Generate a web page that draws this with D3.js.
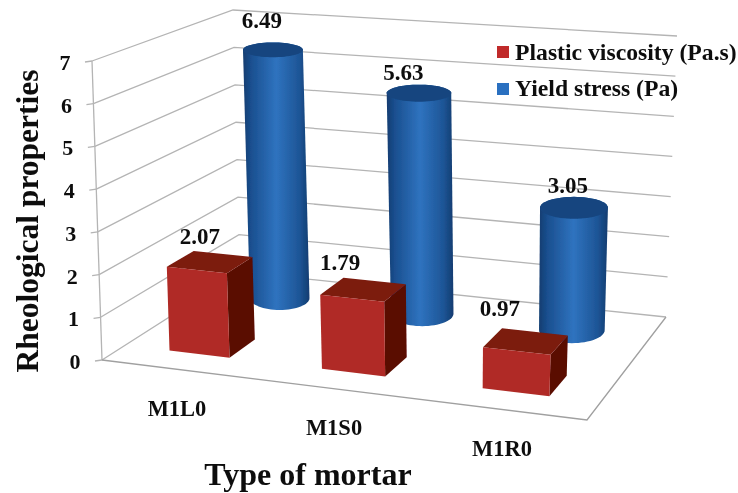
<!DOCTYPE html>
<html><head><meta charset="utf-8">
<script src="https://cdn.jsdelivr.net/npm/d3@7/dist/d3.min.js"></script>
<style>html,body{margin:0;padding:0;background:#fff}svg{display:block}text{font-family:"Liberation Serif",serif;font-weight:bold;fill:#111}</style>
</head><body><svg id="c" width="738" height="493"></svg>
<script>
const categories = ["M1L0","M1S0","M1R0"];
const seriesNames = ["Plastic viscosity (Pa.s)","Yield stress (Pa)"];
const plasticViscosity = [2.07,1.79,0.97];
const yieldStress = [6.49,5.63,3.05];
const tickValues = [0,1,2,3,4,5,6,7];

// chart frame (perspective box)
const floorQuad=[[102,360],[587,420],[666,317],[240,272]];
const topQuad=[[92,61],[601,100],[677,36],[233,10]];
function homography(q){
  const [[x0,y0],[x1,y1],[x2,y2],[x3,y3]]=q;
  const dx1=x1-x2,dx2=x3-x2,sx=x0-x1+x2-x3,dy1=y1-y2,dy2=y3-y2,sy=y0-y1+y2-y3;
  const den=dx1*dy2-dx2*dy1,g=(sx*dy2-dx2*sy)/den,h=(dx1*sy-sx*dy1)/den;
  const a=x1-x0+g*x1,b=x3-x0+h*x3,d=y1-y0+g*y1,e=y3-y0+h*y3;
  return (u,v)=>{const k=g*u+h*v+1;return [(a*u+b*v+x0)/k,(d*u+e*v+y0)/k];};
}
const hF=homography(floorQuad),hT=homography(topQuad);
const P=(u,v,w)=>{const f=hF(u,v),t=hT(u,v);return [f[0]+(t[0]-f[0])*w,f[1]+(t[1]-f[1])*w];};
const yS=d3.scaleLinear().domain([0,7]).range([0,1]);
const xS=d3.scaleBand().domain(categories).range([0,1]).paddingInner(0.6).paddingOuter(0.3);
const zS=d3.scaleBand().domain(seriesNames).range([0,1]).paddingInner(0.56).paddingOuter(0.28);
const line=d3.line();
const poly=pts=>line(pts)+"Z";

const svg=d3.select("#c");
const defs=svg.append("defs");
const g=defs.append("linearGradient").attr("id","cyl").attr("x1",0).attr("x2",1).attr("y1",0).attr("y2",0);
[[0,"#123c70"],[0.12,"#1a4f8f"],[0.5,"#2f73bf"],[0.85,"#1d5596"],[1,"#123c70"]].forEach(s=>g.append("stop").attr("offset",s[0]).attr("stop-color",s[1]));
defs.append("filter").attr("id","soft").append("feGaussianBlur").attr("stdDeviation",0.45);
const root=svg.append("g").attr("filter","url(#soft)");

// grid
const gridG=root.append("g").attr("fill","none").attr("stroke","#b4b4b4").attr("stroke-width",1.3);
tickValues.forEach(t=>{
  const w=yS(t);
  gridG.append("path").attr("d",line([P(0,0,w),P(0,1,w),P(1,1,w)]));
  const a=P(0,0,w);
  gridG.append("path").attr("d",line([[a[0]-7,a[1]+1],a]));
});
gridG.append("path").attr("d",line([P(0,0,0),P(0,0,1)]));
gridG.append("path").attr("stroke","#a0a0a0").attr("d",line([P(0,0,0),P(1,0,0),P(1,1,0)]));

// cylinders: level ellipses at the projected centre of each end
const ellipsePts=(cu,cv,ru,rv,w)=>{
  const c=P(cu,cv,w),rx=Math.abs(P(cu+ru,cv,w)[0]-P(cu-ru,cv,w)[0])/2*1.07;
  const ry=Math.abs(P(cu,cv+rv,w)[1]-P(cu,cv-rv,w)[1])/2*1.3;
  return d3.range(64).map(i=>{const t=i/64*2*Math.PI;return [c[0]+rx*Math.cos(t),c[1]+ry*Math.sin(t)];});
};
categories.forEach((c,i)=>{
  const ru=xS.bandwidth()/2,rv=zS.bandwidth()/2,cu=xS(c)+ru,cv=zS(seriesNames[1])+rv+0.015,w=yS(yieldStress[i])*0.98;
  const bot=ellipsePts(cu,cv,ru,rv,0),top=ellipsePts(cu,cv,ru,rv,w);
  root.append("path").attr("d",poly(d3.polygonHull(bot.concat(top)))).attr("fill","url(#cyl)");
  root.append("path").attr("d",poly(top)).attr("fill","#14457f");
});
// boxes
categories.forEach((c,i)=>{
  const u0=xS(c),u1=u0+xS.bandwidth(),v0=zS(seriesNames[0])+0.01,v1=v0+zS.bandwidth()*0.85,w=yS(plasticViscosity[i])*0.96;
  root.append("path").attr("d",poly([P(u1,v0,0),P(u1,v1,0),P(u1,v1,w),P(u1,v0,w)])).attr("fill","#5a0a03");
  root.append("path").attr("d",poly([P(u0,v0,w),P(u1,v0,w),P(u1,v1,w),P(u0,v1,w)])).attr("fill","#7b1a10");
  root.append("path").attr("d",poly([P(u0,v0,0),P(u1,v0,0),P(u1,v0,w),P(u0,v0,w)])).attr("fill","#b02b25");
});

// text
const T=(s,x,y,size,anchor)=>root.append("text").attr("x",x).attr("y",y).attr("font-size",size).attr("text-anchor",anchor||"middle").text(s);
tickValues.forEach(t=>{const a=P(0,0,yS(t));T(d3.format("d")(t),a[0]-27,a[1]+9,22);});
const labelNudgeBlue=[[-9,-18],[-14,-10],[-5,-13]],labelNudgeRed=[[-26,-5],[-37,-6],[-37,-12]];
categories.forEach((c,i)=>{
  const cu=xS(c)+xS.bandwidth()/2;
  const b=P(cu,zS(seriesNames[1])+zS.bandwidth()/2,yS(yieldStress[i]));
  T(yieldStress[i].toFixed(2),b[0]+labelNudgeBlue[i][0],b[1]+labelNudgeBlue[i][1],23);
  const r=P(cu,zS(seriesNames[0])+zS.bandwidth(),yS(plasticViscosity[i]));
  T(plasticViscosity[i].toFixed(2),r[0]+labelNudgeRed[i][0],r[1]+labelNudgeRed[i][1],23);
});
const catPos=[[177,416],[334,435],[502,456]];
categories.forEach((c,i)=>T(c,catPos[i][0],catPos[i][1],22.5));
T("Type of mortar",308,485,32);
root.append("text").attr("transform","translate(38,221) rotate(-90)").attr("font-size",31.5).attr("text-anchor","middle").text("Rheological properties");
const legendColors=["#c02a2a","#2a6fc0"];
seriesNames.forEach((s,i)=>{
  const y=[46,83][i];
  root.append("rect").attr("x",497).attr("y",y).attr("width",12).attr("height",12).attr("fill",legendColors[i]);
  T(s,515,[60,96][i],23.7,"start");
});
</script></body></html>
